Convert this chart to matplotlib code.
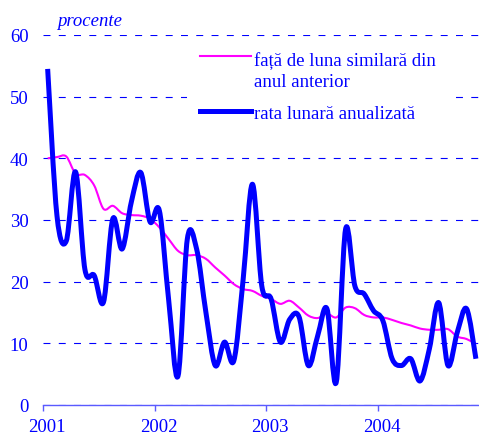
import numpy as np
import matplotlib
matplotlib.use("Agg")
import matplotlib.pyplot as plt
from matplotlib.path import Path
from matplotlib.patches import PathPatch
from matplotlib.lines import Line2D
from matplotlib.legend_handler import HandlerLine2D

plt.rcParams['font.family'] = ['Liberation Serif', 'DejaVu Serif']
plt.rcParams['lines.scale_dashes'] = False

# monthly data, Jan 2001 .. Nov 2004
years = ['2001', '2002', '2003', '2004']
yoy = [40.0, 40.2, 40.3, 37.5, 37.3, 35.6, 31.8, 32.3, 31.1, 30.8, 30.7, 30.2,
       28.8, 26.9, 25.0, 24.3, 24.3, 23.7, 22.3, 21.0, 19.6, 18.8, 18.5, 17.7,
       17.2, 16.4, 16.9, 15.8, 14.5, 14.1, 14.8, 14.2, 15.8, 15.7, 14.6, 14.2,
       14.2, 13.8, 13.3, 12.9, 12.4, 12.2, 12.2, 12.3, 11.1, 10.7, 9.9]
annualized = [54.5, 30.7, 26.6, 37.8, 22.0, 21.0, 16.7, 30.2, 25.3, 33.0, 37.7, 29.7,
              31.5, 17.0, 4.7, 26.9, 25.3, 15.0, 6.4, 10.2, 7.2, 20.4, 35.8, 19.3,
              17.2, 10.2, 13.9, 14.3, 6.4, 11.2, 15.6, 3.7, 28.5, 19.3, 18.0, 15.3,
              13.7, 7.5, 6.4, 7.5, 3.9, 9.1, 16.6, 6.4, 11.8, 15.6, 7.5]
label_yoy = 'fa\u021b\u0103 de luna similar\u0103 din\nanul anterior'
label_ann = 'rata lunar\u0103 anualizat\u0103'

BLUE = '#0000ff'
MAGENTA = '#ff00ff'
AXIS_BLUE = '#5a5aff'
FS = 13.5


def smooth_path(x, y):
    # bezier smoothing like a spreadsheet "smoothed line"
    pts = np.column_stack([x, y])
    n = len(pts)
    verts = [pts[0]]
    codes = [Path.MOVETO]
    for i in range(n - 1):
        p0 = pts[i - 1] if i > 0 else pts[i]
        p1 = pts[i]
        p2 = pts[i + 1]
        p3 = pts[i + 2] if i + 2 < n else pts[i + 1]
        verts += [p1 + (p2 - p0) / 6.0, p2 - (p3 - p1) / 6.0, p2]
        codes += [Path.CURVE4] * 3
    return Path(verts, codes)


class FirstLineHandler(HandlerLine2D):
    def __init__(self, shift, **kw):
        super().__init__(**kw)
        self.shift = shift

    def create_artists(self, legend, orig_handle, xdescent, ydescent,
                       width, height, fontsize, trans):
        return super().create_artists(legend, orig_handle, xdescent,
                                      ydescent - 2 * self.shift, width, height,
                                      fontsize, trans)


W, H = 479, 439
fig = plt.figure(figsize=(W / 100, H / 100), dpi=100)
ax = fig.add_axes([43 / W, (H - 406) / H, 436 / W, 370 / H])

x = np.arange(len(yoy))
ax.add_patch(PathPatch(smooth_path(x, yoy), facecolor='none', edgecolor=MAGENTA,
                       lw=1.5, joinstyle='round', zorder=3))
ax.add_patch(PathPatch(smooth_path(x, annualized), facecolor='none', edgecolor=BLUE,
                       lw=3.6, joinstyle='round', zorder=4))

ax.set_xlim(-0.5, -0.5 + 436 / 9.31)
ax.set_ylim(0, 60)

ax.set_yticks(range(0, 70, 10))
ax.yaxis.grid(True, color=BLUE, lw=0.8, linestyle=(0, (5, 6)))
ax.set_axisbelow(True)
ax.tick_params(axis='y', length=0, pad=10.5, labelsize=FS, labelcolor=BLUE)

ax.set_xticks([12 * k - 0.1 for k in range(len(years))])
ax.set_xticklabels(years)
ax.set_xticks([12 * k - 0.5 for k in range(len(years))], minor=True)
ax.tick_params(axis='x', which='major', length=0, pad=9.5, labelsize=FS, labelcolor=BLUE)
ax.tick_params(axis='x', which='minor', length=4.5, width=1, color=AXIS_BLUE, direction='out')

for s in ['left', 'top', 'right']:
    ax.spines[s].set_visible(False)
ax.spines['bottom'].set_color(AXIS_BLUE)
ax.spines['bottom'].set_linewidth(1)

fig.text(57 / W, 1 - 22 / H, 'procente', style='italic', color=BLUE,
         fontsize=FS, va='center', ha='left')

h1 = Line2D([], [], color=MAGENTA, lw=1.5)
h2 = Line2D([], [], color=BLUE, lw=3.6)
leg = ax.legend([h1, h2], [label_yoy, label_ann], loc='upper left',
                bbox_to_anchor=(187 / W, 1 - 39 / H), bbox_transform=fig.transFigure,
                borderaxespad=0, frameon=True, fancybox=False, framealpha=1,
                facecolor='white', edgecolor='none', fontsize=FS,
                handlelength=2.7, handletextpad=0.2, borderpad=0.7,
                labelspacing=0.8, labelcolor=BLUE,
                handler_map={h1: FirstLineHandler(10.5)})
leg.get_texts()[0].set_linespacing(1.3)
leg.set_zorder(5)

fig.savefig('out.png', dpi=100)
